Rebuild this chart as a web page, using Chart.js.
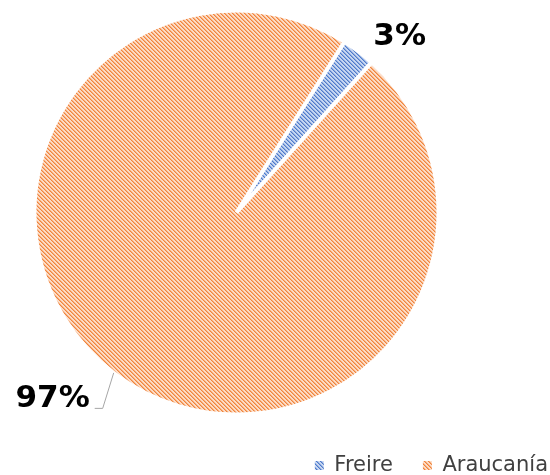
<!DOCTYPE html>
<html>
<head>
<meta charset="utf-8">
<script src="https://cdn.jsdelivr.net/npm/chart.js@4.4.1/dist/chart.umd.min.js"></script>
<style>
  html, body { margin: 0; padding: 0; background: #fff; overflow: hidden; }
  #wrap { position: relative; width: 550px; height: 475px; overflow: hidden; }
  /* canvas wider than the window so the legend sits at the right edge */
  #pieChart { position: absolute; left: -105px; top: 0; }
</style>
</head>
<body>
<div id="wrap">
  <canvas id="pieChart" width="683" height="486"></canvas>
</div>
<script>
// Datos
const categories = ['Freire', 'Araucanía'];
const shares = [2.7, 97.3];

// Schraffur-Muster (Excel-Stil)
function hatch(light, mid, dark) {
  const c = document.createElement('canvas');
  c.width = 4; c.height = 4;
  const g = c.getContext('2d');
  g.fillStyle = light;
  g.fillRect(0, 0, 4, 4);
  for (let i = 0; i < 4; i++) {
    g.fillStyle = dark;
    g.fillRect(i, i, 1, 1);
    g.fillStyle = mid;
    g.fillRect((i + 1) % 4, i, 1, 1);
  }
  return g.createPattern(c, 'repeat');
}

const fills = [
  hatch('#c8d7f1', '#8eabdf', '#4d7acb'),
  hatch('#fcdcc6', '#f7ae7c', '#f0843c')
];

// Prozent-Labels an den Kreissegmenten
const pctLabels = {
  id: 'pctLabels',
  afterDatasetsDraw(chart) {
    const ctx = chart.ctx;
    const meta = chart.getDatasetMeta(0);
    const total = shares.reduce((a, b) => a + b, 0);
    ctx.save();
    ctx.font = 'bold 31px "DejaVu Sans"';
    ctx.fillStyle = '#000';
    ctx.textBaseline = 'alphabetic';
    meta.data.forEach((arc, i) => {
      const p = arc.getProps(['x', 'y', 'startAngle', 'endAngle', 'outerRadius'], true);
      const mid = (p.startAngle + p.endAngle) / 2;
      const ax = p.x + Math.cos(mid) * (p.outerRadius - 2);
      const ay = p.y + Math.sin(mid) * (p.outerRadius - 2);
      const txt = Math.round(shares[i] / total * 100) + '%';
      if (i === 0) {
        ctx.textAlign = 'left';
        ctx.fillText(txt, ax + 16, ay - 8);
      } else {
        // Label nach unten links gezogen, mit Führungslinie
        const tx = ax - 26, ty = ay + 35;
        ctx.textAlign = 'right';
        ctx.fillText(txt, tx, ty);
        ctx.strokeStyle = '#a6a6a6';
        ctx.lineWidth = 1;
        ctx.beginPath();
        ctx.moveTo(ax - 2, ay + 1);
        ctx.lineTo(tx + 13, ty + 1.5);
        ctx.lineTo(tx + 5, ty + 1.5);
        ctx.stroke();
      }
    });
    ctx.restore();
  }
};

new Chart(document.getElementById('pieChart'), {
  type: 'pie',
  data: {
    labels: categories,
    datasets: [{
      data: shares,
      backgroundColor: fills,
      borderColor: '#ffffff',
      borderWidth: 4,
      radius: 202
    }]
  },
  options: {
    responsive: false,
    animation: false,
    rotation: 32.3,
    layout: { padding: 0 },
    plugins: {
      tooltip: { enabled: false },
      legend: {
        position: 'bottom',
        align: 'end',
        labels: {
          boxWidth: 9,
          boxHeight: 9,
          padding: 30,
          color: '#404040',
          font: { family: '"DejaVu Sans"', size: 21 },
          generateLabels: chart => {
            const items = Chart.overrides.pie.plugins.legend.labels.generateLabels(chart);
            items.forEach(it => { it.lineWidth = 0; it.strokeStyle = 'rgba(0,0,0,0)'; });
            return items;
          }
        }
      }
    }
  },
  plugins: [pctLabels]
});
</script>
</body>
</html>
